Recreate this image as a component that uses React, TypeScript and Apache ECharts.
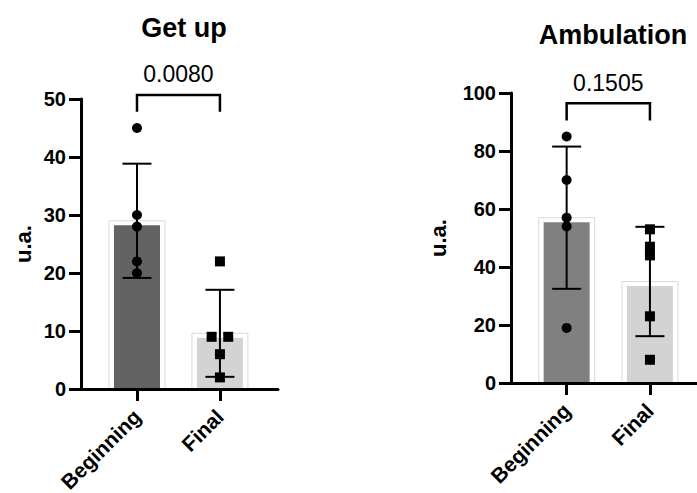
import React, { useEffect, useRef } from "react";
import * as echarts from "echarts";

// ---- data ----
const categories = ["Beginning", "Final"];
const titles = ["Get up", "Ambulation"];
const pValues = ["0.0080", "0.1505"];
const axisName = "u.a.";

// Get up
const getUpBeginning = [45, 30, 28, 22, 20];
const getUpFinal = [22, 9, 9, 6, 2];
const getUpFinalJitter = [0, -0.1, 0.1, 0, 0];
const getUpYAxis = [0, 50, 10]; // min, max, interval
const getUpBracket = [50.7, 47.8]; // bar level, leg end

// Ambulation
const ambBeginning = [85, 70, 57, 54, 19];
const ambFinal = [53, 47, 44, 23, 8];
const ambFinalJitter = [0, 0, 0, 0, 0];
const ambYAxis = [0, 100, 20];
const ambBracket = [96.5, 90.5];

const beginningColors = ["#636363", "#808080"];
const finalColor = "#d3d3d3";
const FONT = "'Liberation Sans', Arial, sans-serif";

const mean = (a: number[]) => a.reduce((s, v) => s + v, 0) / a.length;
const sd = (a: number[]) => {
  const m = mean(a);
  return Math.sqrt(a.reduce((s, v) => s + (v - m) * (v - m), 0) / (a.length - 1));
};

function panelSeries(
  idx: number,
  beg: number[],
  fin: number[],
  finJitter: number[],
  bracket: number[],
  pValue: string
) {
  const barColors = [beginningColors[idx], finalColor];
  const barData = [
    [0, mean(beg)],
    [1, mean(fin)],
  ];
  const errData = [
    [0, mean(beg), sd(beg)],
    [1, mean(fin), sd(fin)],
  ];
  return [
    {
      type: "custom",
      xAxisIndex: idx,
      yAxisIndex: idx,
      z: 2,
      data: barData,
      renderItem: (params: any, api: any) => {
        const x = api.value(0);
        const m = api.value(1);
        const top = api.coord([x, m]);
        const base = api.coord([x, 0]);
        const h = base[1] - top[1];
        return {
          type: "group",
          children: [
            {
              type: "rect",
              shape: { x: top[0] - 28, y: top[1], width: 56, height: h },
              style: { fill: "#ffffff", stroke: "#d9d9d9", lineWidth: 1 },
            },
            {
              type: "rect",
              shape: { x: top[0] - 23, y: top[1] + 4.5, width: 46, height: h - 4.5 },
              style: { fill: barColors[params.dataIndex] },
            },
          ],
        };
      },
    },
    {
      type: "custom",
      xAxisIndex: idx,
      yAxisIndex: idx,
      z: 3,
      data: errData,
      renderItem: (params: any, api: any) => {
        const x = api.value(0);
        const m = api.value(1);
        const s = api.value(2);
        const hi = api.coord([x, m + s]);
        const lo = api.coord([x, m - s]);
        const st = { stroke: "#000", lineWidth: 2 };
        return {
          type: "group",
          children: [
            { type: "line", shape: { x1: hi[0], y1: hi[1], x2: lo[0], y2: lo[1] }, style: st },
            { type: "line", shape: { x1: hi[0] - 14.5, y1: hi[1], x2: hi[0] + 14.5, y2: hi[1] }, style: st },
            { type: "line", shape: { x1: lo[0] - 14.5, y1: lo[1], x2: lo[0] + 14.5, y2: lo[1] }, style: st },
          ],
        };
      },
    },
    {
      type: "scatter",
      xAxisIndex: idx,
      yAxisIndex: idx,
      z: 4,
      symbol: "circle",
      symbolSize: 10,
      itemStyle: { color: "#000", opacity: 1 },
      data: beg.map((v) => [0, v]),
    },
    {
      type: "scatter",
      xAxisIndex: idx,
      yAxisIndex: idx,
      z: 4,
      symbol: "rect",
      symbolSize: 10,
      itemStyle: { color: "#000", opacity: 1 },
      data: fin.map((v, i) => [1 + finJitter[i], v]),
    },
    {
      type: "custom",
      xAxisIndex: idx,
      yAxisIndex: idx,
      z: 3,
      clip: false,
      data: [[0, 1, bracket[0], bracket[1]]],
      renderItem: (params: any, api: any) => {
        const a = api.coord([api.value(0), api.value(2)]);
        const b = api.coord([api.value(1), api.value(2)]);
        const aL = api.coord([api.value(0), api.value(3)]);
        const bL = api.coord([api.value(1), api.value(3)]);
        return {
          type: "group",
          children: [
            {
              type: "polyline",
              shape: { points: [[aL[0], aL[1]], [a[0], a[1]], [b[0], b[1]], [bL[0], bL[1]]] },
              style: { stroke: "#000", lineWidth: 2.5, fill: "none" },
            },
            {
              type: "text",
              x: (a[0] + b[0]) / 2,
              y: a[1] - 9,
              style: {
                text: pValue,
                font: `23px ${FONT}`,
                fill: "#000",
                align: "center",
                verticalAlign: "bottom",
              },
            },
          ],
        };
      },
    },
  ];
}

function xAxis(idx: number, min: number, max: number) {
  return {
    type: "value",
    gridIndex: idx,
    min,
    max,
    z: 10,
    axisLine: { show: true, onZero: false, lineStyle: { color: "#000", width: 3 } },
    axisTick: { show: true, customValues: [0, 1], length: 12, lineStyle: { color: "#000", width: 3 } },
    axisLabel: {
      customValues: [0, 1],
      formatter: (v: number) => categories[Math.round(v)] ?? "",
      rotate: 45,
      margin: 24,
      color: "#000",
      fontWeight: "bold",
      fontSize: 21,
      fontFamily: FONT,
    },
    splitLine: { show: false },
  };
}

function yAxis(idx: number, cfg: number[], nameGap: number) {
  return {
    type: "value",
    gridIndex: idx,
    min: cfg[0],
    max: cfg[1],
    interval: cfg[2],
    z: 10,
    name: axisName,
    nameLocation: "middle",
    nameRotate: 90,
    nameGap,
    nameTextStyle: { color: "#000", fontWeight: "bold", fontSize: 22, fontFamily: FONT },
    axisLine: { show: true, onZero: false, lineStyle: { color: "#000", width: 3 } },
    axisTick: { show: true, length: 12, lineStyle: { color: "#000", width: 3 } },
    axisLabel: { margin: 15, color: "#000", fontWeight: "bold", fontSize: 20, fontFamily: FONT },
    splitLine: { show: false },
  };
}

export default function App() {
  const ref = useRef<HTMLDivElement>(null);
  useEffect(() => {
    document.body.style.margin = "0";
    if (!ref.current) return;
    const chart = echarts.init(ref.current, null, { renderer: "svg" });
    chart.setOption({
      animation: false,
      backgroundColor: "#fff",
      title: [
        {
          text: titles[0],
          left: 179,
          top: 9,
          textAlign: "center",
          textStyle: { fontSize: 27, fontWeight: "bold", color: "#000", fontFamily: FONT },
        },
        {
          text: titles[1],
          left: 608,
          top: 16,
          textAlign: "center",
          textStyle: { fontSize: 27, fontWeight: "bold", color: "#000", fontFamily: FONT },
        },
      ],
      grid: [
        { left: 81, top: 99, width: 197, height: 290, containLabel: false, outerBoundsMode: "none" },
        { left: 511, top: 93, right: 0, height: 290, containLabel: false, outerBoundsMode: "none" },
      ],
      xAxis: [xAxis(0, -0.675, 1.7), xAxis(1, -0.668, 1.565)],
      yAxis: [yAxis(0, getUpYAxis, 47), yAxis(1, ambYAxis, 62)],
      series: [
        ...panelSeries(0, getUpBeginning, getUpFinal, getUpFinalJitter, getUpBracket, pValues[0]),
        ...panelSeries(1, ambBeginning, ambFinal, ambFinalJitter, ambBracket, pValues[1]),
      ],
    });
    return () => chart.dispose();
  }, []);
  return <div ref={ref} style={{ width: 697, height: 493 }} />;
}
